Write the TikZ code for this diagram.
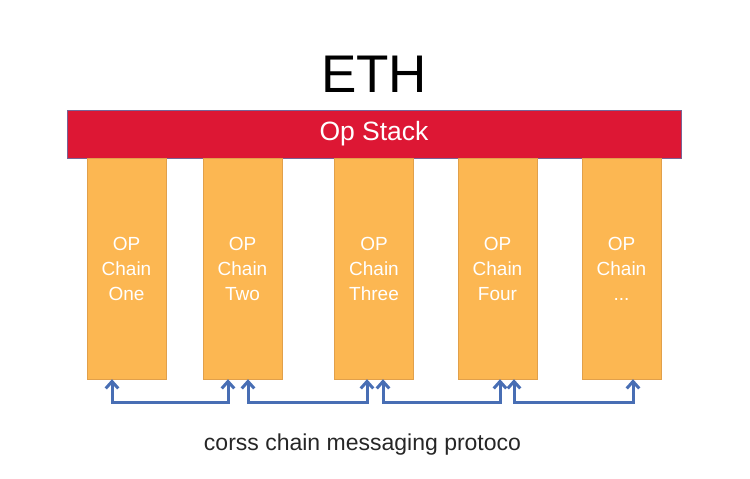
\documentclass[tikz,border=0pt]{standalone}
\usepackage{fontspec}
\setmainfont{Liberation Sans}
\usetikzlibrary{arrows.meta,calc}
\definecolor{stackred}{RGB}{221,23,52}
\definecolor{stackedge}{RGB}{120,100,150}
\definecolor{chainfill}{RGB}{252,183,82}
\definecolor{chainedge}{RGB}{225,160,75}
\definecolor{msgblue}{RGB}{72,110,180}

\begin{document}
\begin{tikzpicture}[x=1pt, y=-1pt,
    chain/.style={draw=chainedge, fill=chainfill, minimum width=79pt, minimum height=221pt,
      text=white, align=center, inner sep=0pt, font=\fontsize{19}{25}\selectfont},
    msg/.style={draw=msgblue, line width=3pt, {Straight Barb[length=7pt,width=12.5pt]}-{Straight Barb[length=7pt,width=12.5pt]}}]

    \useasboundingbox (0,0) rectangle (750,479);

    \node (eth) at (374,74) {\fontsize{53}{60}\selectfont ETH};
    \node[draw=stackedge, fill=stackred, minimum width=614pt, minimum height=48pt, inner sep=0pt,
      text=white, font=\fontsize{26.5}{30}\selectfont] (stack) at (374,134) {Op Stack};

    \node[chain] (c1) at (126.5,268.5) {OP\\Chain\\One};
    \node[chain] (c2) at (242.5,268.5) {OP\\Chain\\Two};
    \node[chain] (c3) at (374,268.5) {OP\\Chain\\Three};
    \node[chain] (c4) at (497.5,268.5) {OP\\Chain\\Four};
    \node[chain] (c5) at (621.5,268.5) {OP\\Chain\\...};

    % arrow ends under the chains
    \coordinate (a1) at ([xshift=-14.5pt]c1.south);
    \coordinate (a2) at ([xshift=-14.5pt]c2.south);
    \coordinate (a3) at ([xshift=5.5pt]c2.south);
    \coordinate (a4) at ([xshift=-7pt]c3.south);
    \coordinate (a5) at ([xshift=9pt]c3.south);
    \coordinate (a6) at ([xshift=2.5pt]c4.south);
    \coordinate (a7) at ([xshift=16.5pt]c4.south);
    \coordinate (a8) at ([xshift=11.5pt]c5.south);

    \draw[msg] (a1) -- ++(0,23) -| (a2);
    \draw[msg] (a3) -- ++(0,23) -| (a4);
    \draw[msg] (a5) -- ++(0,23) -| (a6);
    \draw[msg] (a7) -- ++(0,23) -| (a8);

    \node[text=black!85, font=\fontsize{23}{26}\selectfont] (proto) at (362.5,445) {corss chain messaging protoco};

\end{tikzpicture}
\end{document}
